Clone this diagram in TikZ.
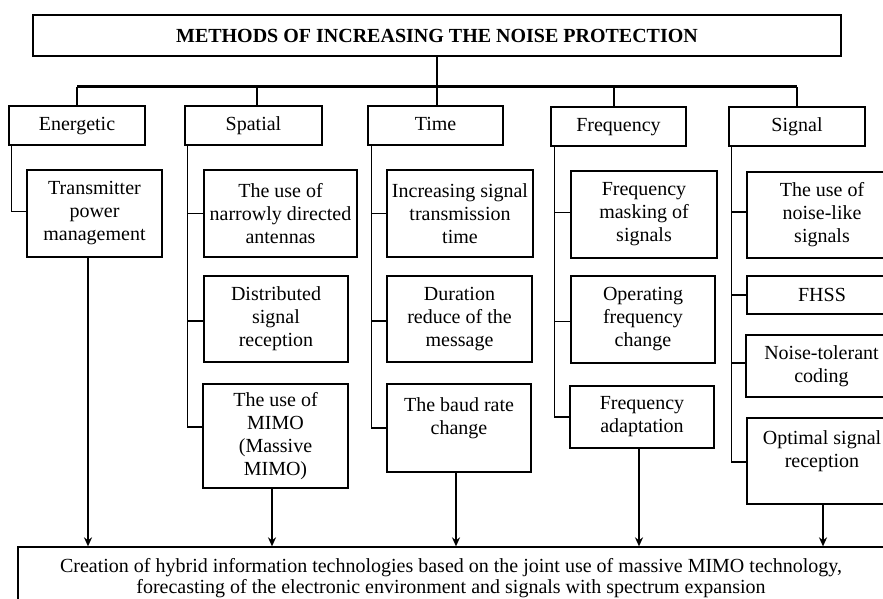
\documentclass[tikz,border=0pt]{standalone}
\usepackage{fontspec}
\setmainfont{Liberation Serif}
\usetikzlibrary{arrows.meta}
\begin{document}
\begin{tikzpicture}[x=1pt,y=-1pt,
  box/.style={draw, line width=1.3pt, inner sep=0pt, align=center,
    font=\fontsize{20}{23}\selectfont},
  catbox/.style={box, minimum height=39pt, text height=14pt, text depth=4.5pt},
  conn/.style={line width=1.2pt},
  barline/.style={line width=3pt},
  arr/.style={line width=1.6pt, -{Stealth[length=9pt,width=8pt]}}]
\useasboundingbox (0,0) rectangle (883,599);
% title
\node[box, minimum width=808pt, minimum height=41pt, font=\fontsize{20}{23}\selectfont\bfseries] (top) at (437,35.5) {METHODS OF INCREASING THE NOISE PROTECTION};
% categories
\node[catbox, minimum width=136pt] (en) at (77,125.5) {Energetic};
\node[catbox, minimum width=137pt] (sp) at (253.5,125.5) {Spatial};
\node[catbox, minimum width=135pt] (ti) at (435.5,125.5) {Time};
\node[catbox, minimum width=135pt] (fr) at (618.5,126.5) {Frequency};
\node[catbox, minimum width=136pt] (sg) at (797,126.5) {Signal};
% energetic
\node[box, minimum width=135pt, minimum height=87pt] (tx) at (94.5,213.5) {Transmitter\\power\\management};
% spatial
\node[box, minimum width=153pt, minimum height=87pt] (na) at (280.5,213.5) {The use of\\narrowly directed\\antennas};
\node[box, minimum width=144pt, minimum height=86pt] (di) at (276,319) {Distributed\\signal\\reception};
\node[box, minimum width=145pt, minimum height=104pt] (mi) at (275.5,436) {The use of\\MIMO\\(Massive\\MIMO)};
% time
\node[box, minimum width=146pt, minimum height=87pt] (inc) at (460,213.5) {Increasing signal\\transmission\\time};
\node[box, minimum width=145pt, minimum height=86pt] (du) at (459.5,319) {Duration\\reduce of the\\message};
\node[box, minimum width=144pt, minimum height=88pt] (ba) at (459,428) {The baud rate\\change\\\mbox{}};
% frequency
\node[box, minimum width=146pt, minimum height=87pt] (ma) at (644,214.5) {Frequency\\masking of\\signals};
\node[box, minimum width=144pt, minimum height=87pt] (op) at (643,319.5) {Operating\\frequency\\change};
\node[box, minimum width=144pt, minimum height=62pt] (ad) at (642,417) {Frequency\\adaptation};
% signal
\node[box, minimum width=150pt, minimum height=86pt] (nl) at (822,215) {The use of\\noise-like\\signals};
\node[box, minimum width=150pt, minimum height=38pt] (fh) at (822,295) {FHSS};
\node[box, minimum width=151pt, minimum height=62pt] (nt) at (821.5,366) {Noise-tolerant\\coding};
\node[box, minimum width=150pt, minimum height=86pt] (os) at (822,461) {Optimal signal\\reception\\\mbox{}};
% bottom
\node[box, minimum width=866pt, minimum height=62pt, font=\fontsize{20}{21}\selectfont] (bot) at (451,578) {Creation of hybrid information technologies based on the joint use of massive MIMO technology,\\forecasting of the electronic environment and signals with spectrum expansion};
% top tree
\coordinate (bar) at (0,87);
\draw[conn] (top.south) -- (top.south |- ti.north);
\draw[barline] (en.north |- bar) -- (sg.north |- bar);
\draw[conn] (en.north) -- (en.north |- bar);
\draw[conn] ([xshift=3.5pt]sp.north) -- ([xshift=3.5pt]sp.north |- bar);
\draw[conn] ([xshift=-4.5pt]fr.north) -- ([xshift=-4.5pt]fr.north |- bar);
\draw[conn] (sg.north) -- (sg.north |- bar);
% energetic branch
\draw[conn] ([xshift=3pt]en.south west) |- ([yshift=2pt]tx.west);
% spatial branches
\coordinate (spx) at ([xshift=3pt]sp.south west);
\draw[conn] (spx) |- ([yshift=9pt]mi.west);
\draw[conn] (na.west) -- (na.west -| spx);
\draw[conn] ([yshift=-2pt]di.west) -- ([yshift=-2pt]di.west -| spx);
% time branches
\coordinate (tix) at ([xshift=4pt]ti.south west);
\draw[conn] (tix) |- (ba.west);
\draw[conn] (inc.west) -- (inc.west -| tix);
\draw[conn] ([yshift=-2pt]du.west) -- ([yshift=-2pt]du.west -| tix);
% frequency branches
\coordinate (frx) at ([xshift=4pt]fr.south west);
\draw[conn] (frx) |- (ad.west);
\draw[conn] ([yshift=2pt]ma.west) -- ([yshift=2pt]ma.west -| frx);
\draw[conn] ([yshift=-2pt]op.west) -- ([yshift=-2pt]op.west -| frx);
% signal branches
\coordinate (sgx) at ([xshift=3pt]sg.south west);
\draw[conn] (sgx) |- ([yshift=-1pt]os.west);
\draw[conn] ([yshift=3pt]nl.west) -- ([yshift=3pt]nl.west -| sgx);
\draw[conn] (fh.west) -- (fh.west -| sgx);
\draw[conn] ([yshift=3pt]nt.west) -- ([yshift=3pt]nt.west -| sgx);
% arrows
\draw[arr] ([xshift=-6.5pt]tx.south) -- ([xshift=-6.5pt]tx.south |- bot.north);
\draw[arr] ([xshift=-3.5pt]mi.south) -- ([xshift=-3.5pt]mi.south |- bot.north);
\draw[arr] ([xshift=-3pt]ba.south) -- ([xshift=-3pt]ba.south |- bot.north);
\draw[arr] ([xshift=-3pt]ad.south) -- ([xshift=-3pt]ad.south |- bot.north);
\draw[arr] ([xshift=1pt]os.south) -- ([xshift=1pt]os.south |- bot.north);
\end{tikzpicture}
\end{document}
